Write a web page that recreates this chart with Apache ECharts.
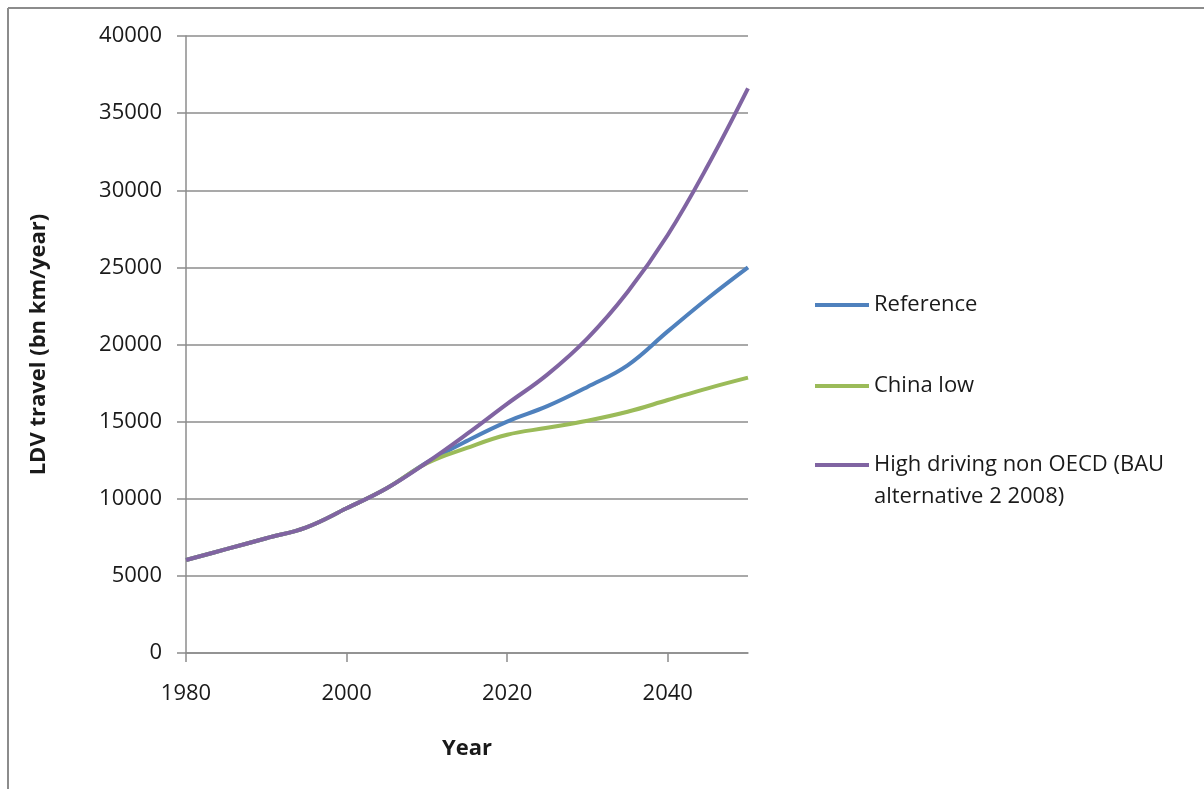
<!DOCTYPE html>
<html>
<head>
<meta charset="utf-8">
<script src="https://cdn.jsdelivr.net/npm/echarts@6/dist/echarts.min.js"></script>
<style>
html,body{margin:0;padding:0;background:#fff;}
#chart{width:1204px;height:789px;}
</style>
</head>
<body>
<div id="chart"></div>
<script>
// Data
var years = [1980, 1985, 1990, 1995, 2000, 2005, 2010, 2015, 2020, 2025, 2030, 2035, 2040, 2045, 2050];
var referenceValues = [6030, 6730, 7440, 8150, 9380, 10680, 12350, 13750, 15000, 16000, 17250, 18650, 20850, 23000, 25000];
var chinaLowValues  = [6030, 6730, 7440, 8150, 9380, 10680, 12300, 13300, 14150, 14600, 15060, 15640, 16400, 17160, 17850];
var highDrivingValues = [6030, 6730, 7440, 8150, 9380, 10680, 12350, 14200, 16150, 18050, 20400, 23400, 27100, 31600, 36600];
var seriesNames = ['Reference', 'China low', 'High driving non OECD (BAU alternative 2 2008)'];
var legendLabels = ['Reference', 'China low', '\nHigh driving non OECD (BAU\nalternative 2 2008)'];
var seriesColors = ['#4F81BD', '#9BBB59', '#8064A2'];
var yTicks = {min: 0, max: 40000, interval: 5000};
var xTicks = {min: 1980, max: 2050, interval: 20};

function pairs(vals) {
  return years.map(function (y, i) { return [y, vals[i]]; });
}
var allValues = [referenceValues, chinaLowValues, highDrivingValues];

var FONT = 'Open Sans';
var chart = echarts.init(document.getElementById('chart'), null, {renderer: 'canvas'});

function makeLegend(i, top) {
  return {
    orient: 'vertical',
    left: 815,
    top: top,
    padding: 0,
    itemWidth: 54,
    itemHeight: 4,
    itemGap: 6,
    icon: 'rect',
    selectedMode: false,
    data: [seriesNames[i]],
    formatter: function () { return legendLabels[i]; },
    textStyle: {fontFamily: FONT, fontSize: 22, color: '#1a1a1a', lineHeight: 32}
  };
}

var option = {
  animation: false,
  backgroundColor: '#fff',
  grid: {left: 186, right: 456, top: 36, bottom: 136, containLabel: false},
  legend: [makeLegend(0, 289), makeLegend(1, 370), makeLegend(2, 417)],
  xAxis: {
    type: 'value',
    min: xTicks.min, max: xTicks.max, interval: xTicks.interval,
    name: 'Year',
    nameLocation: 'middle',
    nameGap: 85,
    nameTextStyle: {fontFamily: FONT, fontSize: 22, fontWeight: 'bold', color: '#1a1a1a'},
    axisLine: {show: true, lineStyle: {color: '#8c8c8c', width: 1.5}},
    axisTick: {show: true, length: 9, lineStyle: {color: '#8c8c8c', width: 1.5}},
    axisLabel: {fontFamily: FONT, fontSize: 22, color: '#1a1a1a', margin: 30, showMaxLabel: false,
      formatter: function (v) { return String(v); }},
    splitLine: {show: false}
  },
  yAxis: {
    type: 'value',
    min: yTicks.min, max: yTicks.max, interval: yTicks.interval,
    name: 'LDV travel (bn km/year)',
    nameLocation: 'middle',
    nameGap: 136,
    nameTextStyle: {fontFamily: FONT, fontSize: 22, fontWeight: 'bold', color: '#1a1a1a'},
    axisLine: {show: true, lineStyle: {color: '#8c8c8c', width: 1.5}},
    axisTick: {show: true, length: 9, lineStyle: {color: '#8c8c8c', width: 1.5}},
    axisLabel: {fontFamily: FONT, fontSize: 22, color: '#1a1a1a', margin: 24,
      formatter: function (v) { return String(v); }},
    splitLine: {show: true, lineStyle: {color: '#8c8c8c', width: 1.5}}
  },
  series: seriesNames.map(function (n, i) {
    return {
      name: n,
      type: 'line',
      data: pairs(allValues[i]),
      smooth: 0.4,
      symbol: 'none',
      color: seriesColors[i],
      lineStyle: {color: seriesColors[i], width: 4},
      z: 2 + i
    };
  }),
  graphic: [
    {type: 'line', shape: {x1: 8, y1: 8, x2: 1204, y2: 8}, style: {stroke: '#8c8c8c', lineWidth: 2}},
    {type: 'line', shape: {x1: 8, y1: 8, x2: 8, y2: 789}, style: {stroke: '#8c8c8c', lineWidth: 2}}
  ]
};
chart.setOption(option);
</script>
</body>
</html>
